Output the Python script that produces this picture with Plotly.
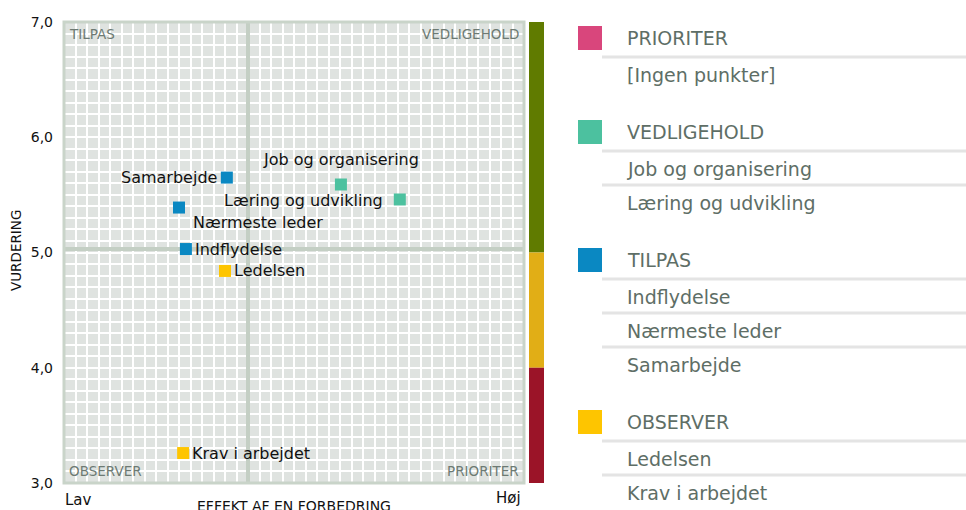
import plotly.graph_objects as go

# ---- data ----
names = ["Samarbejde", "Nærmeste leder", "Indflydelse", "Ledelsen",
         "Krav i arbejdet", "Job og organisering", "Læring og udvikling"]
effekt = [35.4, 25.0, 26.5, 35.0, 25.9, 60.2, 73.0]
vurdering = [5.65, 5.39, 5.03, 4.84, 3.26, 5.59, 5.46]
groups = ["TILPAS", "TILPAS", "TILPAS", "OBSERVER", "OBSERVER",
          "VEDLIGEHOLD", "VEDLIGEHOLD"]
group_colors = {"PRIORITER": "#d9467c", "VEDLIGEHOLD": "#4cc19f",
                "TILPAS": "#0a88c2", "OBSERVER": "#fec500"}
y_ticks = [3, 4, 5, 6, 7]
y_tick_labels = ["3,0", "4,0", "5,0", "6,0", "7,0"]
band_ranges = [(5, 7), (4, 5), (3, 4)]
band_colors = ["#607b00", "#e1ae16", "#9b1428"]
legend_groups = ["PRIORITER", "VEDLIGEHOLD", "TILPAS", "OBSERVER"]
legend_items = {"PRIORITER": ["[Ingen punkter]"],
                "VEDLIGEHOLD": ["Job og organisering", "Læring og udvikling"],
                "TILPAS": ["Indflydelse", "Nærmeste leder", "Samarbejde"],
                "OBSERVER": ["Ledelsen", "Krav i arbejdet"]}
x_split, y_split = 40, 5.03

FONT = "Verdana, DejaVu Sans, sans-serif"
W, H = 966, 510
L, R, T, B = 64, 442, 22, 27
PW = W - L - R
PH = H - T - B


def px(x):
    return (x - L) / PW


def py(y):
    return 1 - (y - T) / PH


fig = go.Figure()
# quadrant dividers (drawn as traces so they sit above the grid, below the points)
fig.add_trace(go.Scatter(x=[x_split, x_split], y=[3, 7], mode="lines",
                         line=dict(color="#c4cfc4", width=4),
                         hoverinfo="skip", showlegend=False))
fig.add_trace(go.Scatter(x=[0, 100], y=[y_split, y_split], mode="lines",
                         line=dict(color="#c4cfc4", width=4),
                         hoverinfo="skip", showlegend=False))
fig.add_trace(go.Scatter(
    x=effekt, y=vurdering, mode="markers",
    marker=dict(symbol="square", size=12,
                color=[group_colors[g] for g in groups], line=dict(width=0)),
    text=names, hoverinfo="text", showlegend=False))

annotations = []
# point labels
label_pos = {
    "Samarbejde": dict(xanchor="right", yanchor="middle", xshift=-8, yshift=0),
    "Nærmeste leder": dict(xanchor="left", yanchor="middle", xshift=12, yshift=-15),
    "Indflydelse": dict(xanchor="left", yanchor="middle", xshift=7, yshift=0),
    "Ledelsen": dict(xanchor="left", yanchor="middle", xshift=7, yshift=0),
    "Krav i arbejdet": dict(xanchor="left", yanchor="middle", xshift=7, yshift=0),
    "Job og organisering": dict(xanchor="center", yanchor="middle", xshift=0, yshift=25),
    "Læring og udvikling": dict(xanchor="right", yanchor="middle", xshift=-15, yshift=-1),
}
for n, xv, yv in zip(names, effekt, vurdering):
    annotations.append(dict(x=xv, y=yv, xref="x", yref="y", text=n, showarrow=False,
                            font=dict(family=FONT, size=16, color="#111111"),
                            **label_pos[n]))

shapes = []
# border
shapes.append(dict(type="rect", xref="x domain", yref="y domain", x0=0, x1=1, y0=0, y1=1,
                   line=dict(color="#c9d4c9", width=3), layer="above"))
# colour band on the right
for (y0, y1), c in zip(band_ranges, band_colors):
    shapes.append(dict(type="rect", xref="x domain", yref="y", x0=px(529), x1=px(544),
                       y0=y0, y1=y1, fillcolor=c, line=dict(width=0)))

# quadrant labels
qfont = dict(family=FONT, size=13.5, color="#6d7a73")
quad = [
    (67, 34, "TILPAS", "left"),
    (521, 34, "VEDLIGEHOLD", "right"),
    (67, 471, "OBSERVER", "left"),
    (521, 471, "PRIORITER", "right"),
]
for qx, qy, txt, anc in quad:
    annotations.append(dict(x=px(qx), y=py(qy), text=txt, xanchor=anc, yanchor="middle",
                            xref="paper", yref="paper", showarrow=False, font=qfont))

# axis labels
afont = dict(family=FONT, size=15, color="#111111")
annotations += [
    dict(x=px(63), y=py(500), text="Lav", xanchor="left", yanchor="middle",
         xref="paper", yref="paper", showarrow=False, font=afont),
    dict(x=px(523), y=py(498), text="Høj", xanchor="right", yanchor="middle",
         xref="paper", yref="paper", showarrow=False, font=afont),
    dict(x=px(294), y=py(506), text="EFFEKT AF EN FORBEDRING", xanchor="center",
         yanchor="middle", xref="paper", yref="paper", showarrow=False,
         font=dict(family=FONT, size=14, color="#111111")),
    dict(x=px(16), y=py(251), text="VURDERING", textangle=-90, xanchor="center",
         yanchor="middle", xref="paper", yref="paper", showarrow=False,
         font=dict(family=FONT, size=13.5, color="#111111")),
]

# legend panel
lfont = dict(family=FONT, size=19, color="#5e6e66")
y_cur = 38
for gi, g in enumerate(legend_groups):
    shapes.append(dict(type="rect", xref="paper", yref="paper",
                       x0=px(578), x1=px(602), y0=py(y_cur - 12), y1=py(y_cur + 12),
                       fillcolor=group_colors[g], line=dict(width=0)))
    annotations.append(dict(x=px(625), y=py(y_cur), text=g, xref="paper", yref="paper",
                            xanchor="left", yanchor="middle", showarrow=False, font=lfont))
    y_cur += 19
    for item in legend_items[g]:
        shapes.append(dict(type="line", xref="paper", yref="paper",
                           x0=px(602), x1=px(966), y0=py(y_cur), y1=py(y_cur),
                           line=dict(color="#e4e4e4", width=3)))
        y_cur += 18
        annotations.append(dict(x=px(625), y=py(y_cur), text=item, xref="paper",
                                yref="paper", xanchor="left", yanchor="middle",
                                showarrow=False, font=lfont))
        y_cur += 16
    y_cur += 41

fig.update_layout(
    width=W, height=H, margin=dict(l=L, r=R, t=T, b=B),
    paper_bgcolor="white", plot_bgcolor="#dfe3e0",
    shapes=shapes, annotations=annotations,
    xaxis=dict(range=[0, 100], dtick=2.5, showticklabels=False, ticks="",
               showgrid=True, gridcolor="white", gridwidth=2, zeroline=False,
               showline=False, fixedrange=True),
    yaxis=dict(range=[3, 7], tickvals=y_ticks, ticktext=y_tick_labels,
               showgrid=True, gridcolor="white", gridwidth=2, zeroline=False,
               showline=False, ticks="", ticklabelstandoff=10,
               tickfont=dict(family=FONT, size=14, color="#111111"),
               minor=dict(dtick=0.1, showgrid=True, gridcolor="white", gridwidth=2),
               fixedrange=True),
    font=dict(family=FONT),
)

fig.write_html("out.html", config={"displayModeBar": False},
               post_script="document.body.style.margin='0';document.body.style.overflow='hidden';")
